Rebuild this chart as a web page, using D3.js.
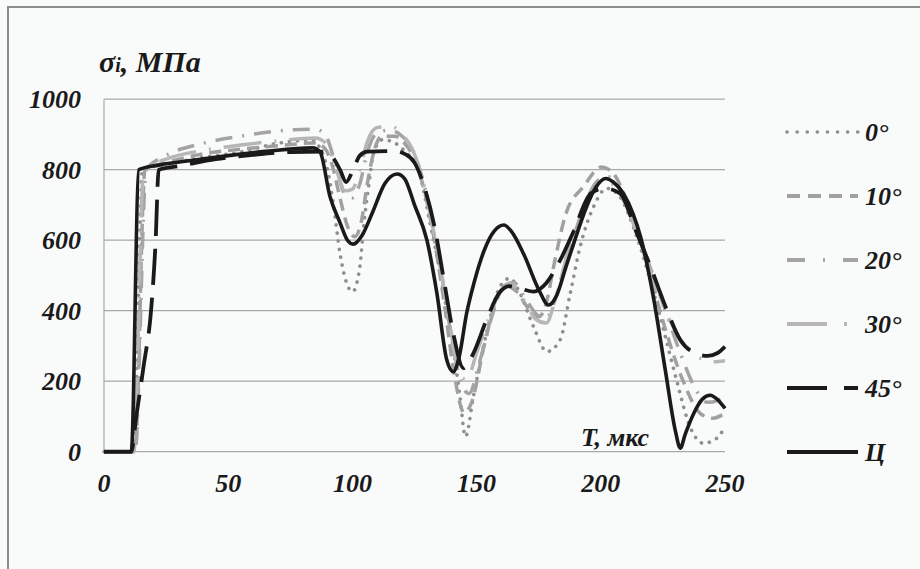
<!DOCTYPE html>
<html>
<head>
<meta charset="utf-8">
<script src="https://cdn.jsdelivr.net/npm/d3@7"></script>
<style>
    body { margin: 0; background: #f9fafa; }
</style>
</head>
<body>
<div id="chart"></div>
<script>
// series names, in legend order
var names = ["0°", "10°", "20°", "30°", "45°", "Ц"];

// [T, sigma] pairs
var s0 = [[0,0],[12,0],[15.5,800],[25,815],[40,835],[55,850],[70,875],[84,884],[87,860],[90,800],[92.3,705],[95,563],[97.7,478],[100.1,454],[103,525],[104.5,638],[106.5,752],[108.5,846],[112,885],[116,880],[120,860],[124,830],[127,790],[131,657],[135,520],[138,400],[140.6,298],[143.3,156],[145.5,43],[148.7,156],[154,336],[159.4,468],[163.4,492],[167.5,449],[172.9,355],[178.3,284],[183.6,317],[187.7,449],[191.7,582],[197.1,695],[202.5,747],[207.7,723],[213.1,638],[219.9,487],[225.3,345],[230.5,203],[235.9,71],[241.3,24],[246.7,38],[250,71]];
var s10 = [[0,0],[12.5,0],[16.5,800],[25,820],[40,845],[55,858],[70,868],[85,876],[89,860],[92,810],[95,720],[98,640],[101,610],[103.5,650],[106,760],[109,860],[112,895],[117,895],[121,875],[125,830],[129,740],[133,600],[137,420],[141,220],[145,110],[148,140],[153,300],[158,430],[162,470],[166,455],[171,405],[175,383],[178,420],[181,525],[186,676],[193,752],[200.4,808],[205,790],[210,720],[215,620],[221,470],[226.5,336],[233,203],[240,109],[245,95],[250,109]];
var s20 = [[0,0],[12.5,0],[17,800],[25,840],[40,875],[55,895],[70,910],[85,915],[89,900],[93,820],[97,730],[100,720],[103,760],[106,850],[110,905],[115,912],[120,895],[124,860],[128,780],[132,660],[136,500],[140,320],[144,190],[147,165],[151,250],[156,380],[161,470],[165,480],[170,430],[175,385],[178,380],[182,440],[187,560],[193,690],[199,770],[203,780],[208,740],[214,640],[220,520],[226,400],[232,280],[238,180],[243,140],[247,145],[250,160]];
var s30 = [[0,0],[12,0],[16,800],[25,830],[40,855],[55,870],[70,882],[85,890],[90,870],[94,790],[97,740],[100,745],[103,800],[106,880],[110,920],[116,922],[120,900],[124,860],[128,780],[132,650],[136,500],[140,330],[143.5,215],[146,205],[150,280],[155,380],[160,460],[164,475],[169,430],[174,375],[178,365],[182,440],[188,600],[194,710],[200,760],[204,760],[210,700],[216,590],[222,470],[228,370],[234,300],[240,265],[245,255],[250,258]];
var s45 = [[0,0],[11,0],[13,100],[16,245],[19,405],[20.8,600],[22,800],[30,810],[45,830],[60,842],[75,850],[88,851],[92,835],[95,800],[97.5,765],[100,795],[103,840],[106,851],[117,853],[121,845],[125,820],[129,750],[133,640],[137,480],[140.6,336],[144.7,237],[148.7,279],[154,374],[159,449],[163,470],[168,462],[173,454],[178,478],[183.7,544],[189,624],[196,733],[201.7,747],[207.7,733],[214.5,620],[220,525],[226.6,402],[232,317],[238,280],[243,272],[247,280],[250,298]];
var sC = [[0,0],[11,0],[14,800],[22,813],[35,826],[50,840],[65,852],[84,862],[87,850],[91,723],[95,650],[98,600],[100.3,589],[104,615],[108,677],[113,760],[118,788],[121,775],[125,700],[130,600],[134,450],[138,260],[140.6,227],[143,270],[146,393],[149,480],[153,570],[157,625],[161,643],[164,625],[169,560],[175,460],[179,416],[182,440],[186,525],[190,610],[194,690],[198,750],[202,775],[205,765],[209,733],[213,675],[216,610],[221,445],[226,230],[230,60],[232,10],[234,50],[237.5,110],[241,150],[244,160],[247,148],[250,123]];

var xTicks = [0, 50, 100, 150, 200, 250];
var yTicks = [0, 200, 400, 600, 800, 1000];

var series = [s0, s10, s20, s30, s45, sC];
var colors = ["#8e8e8e", "#a0a0a0", "#a4a4a4", "#b6b6b6", "#1a1a1a", "#1a1a1a"];
var widths = [3.6, 3.5, 3.5, 3.5, 3.8, 3.6];
var dashes = ["0.1,8", "12,7", "17,10,2,10", "38,13,2,13", "36,13", "none"];
var legendDashes = ["0.1,10", "13,8", "18,18,2,18", "40,17,3,17", "40,17", "none"];

var font = '"Liberation Serif", "Times New Roman", serif';
var width = 920, height = 569;

var svg = d3.select('#chart')
    .append('svg')
    .attr('width', width)
    .attr('height', height);

svg.append('rect')
    .attr('width', width)
    .attr('height', height)
    .attr('fill', '#f9fafa');

// outer frame (only top and left show)
svg.append('path')
    .attr('d', 'M8,' + height + 'V7H' + width)
    .attr('fill', 'none')
    .attr('stroke', '#8c8c8c')
    .attr('stroke-width', 2);

var x = d3.scaleLinear().domain([0, 250]).range([104, 725]);
var y = d3.scaleLinear().domain([0, 1000]).range([451.7, 99.2]);

// gridlines
svg.selectAll('.grid')
    .data(yTicks)
    .enter()
    .append('line')
    .attr('class', 'grid')
    .attr('x1', x(0))
    .attr('x2', x(250))
    .attr('y1', function(d) { return y(d); })
    .attr('y2', function(d) { return y(d); })
    .attr('stroke', '#a9a9a9')
    .attr('stroke-width', 1.2);

svg.append('line')
    .attr('x1', x(0)).attr('x2', x(0))
    .attr('y1', y(0)).attr('y2', y(1000))
    .attr('stroke', '#a9a9a9')
    .attr('stroke-width', 1.2);

// bold italic serif text helper
function label(sel, size) {
    return sel.style('font-family', font)
        .style('font-style', 'italic')
        .style('font-weight', 'bold')
        .style('font-size', size + 'px')
        .attr('fill', '#1a1a1a');
}

// tick labels
label(svg.selectAll('.y-label')
    .data(yTicks)
    .enter()
    .append('text')
    .attr('class', 'y-label')
    .attr('x', 81)
    .attr('y', function(d) { return y(d); })
    .attr('dy', '0.35em')
    .attr('text-anchor', 'end')
    .text(function(d) { return d; }), 26);

label(svg.selectAll('.x-tick')
    .data(xTicks)
    .enter()
    .append('text')
    .attr('class', 'x-tick')
    .attr('x', function(d) { return x(d); })
    .attr('y', 492)
    .attr('text-anchor', 'middle')
    .text(function(d) { return d; }), 26);

// axis titles
var title = label(svg.append('text')
    .attr('x', 99)
    .attr('y', 72), 30);
title.append('tspan').text('σ');
title.append('tspan').style('font-size', '20px').text('i');
title.append('tspan').text(', МПа');

label(svg.append('text')
    .attr('x', 581)
    .attr('y', 446)
    .text('T, мкс'), 26);

// lines
var line = d3.line()
    .x(function(d) { return x(d[0]); })
    .y(function(d) { return y(d[1]); })
    .curve(d3.curveMonotoneX);

series.forEach(function(s, i) {
    svg.append('path')
        .datum(s)
        .attr('fill', 'none')
        .attr('stroke', colors[i])
        .attr('stroke-width', widths[i])
        .attr('stroke-linecap', i === 0 ? 'round' : 'butt')
        .attr('stroke-linejoin', 'round')
        .attr('stroke-dasharray', dashes[i])
        .attr('d', line);
});

// legend
names.forEach(function(n, i) {
    var ly = 132 + i * 64;
    svg.append('line')
        .attr('x1', 787).attr('x2', 858)
        .attr('y1', ly).attr('y2', ly)
        .attr('stroke', colors[i])
        .attr('stroke-width', i === 0 ? 3.6 : 4)
        .attr('stroke-linecap', i === 0 ? 'round' : 'butt')
        .attr('stroke-dasharray', legendDashes[i]);

    label(svg.append('text')
        .attr('x', 865)
        .attr('y', ly)
        .attr('dy', '0.35em')
        .text(n), 26);
});
</script>
</body>
</html>
